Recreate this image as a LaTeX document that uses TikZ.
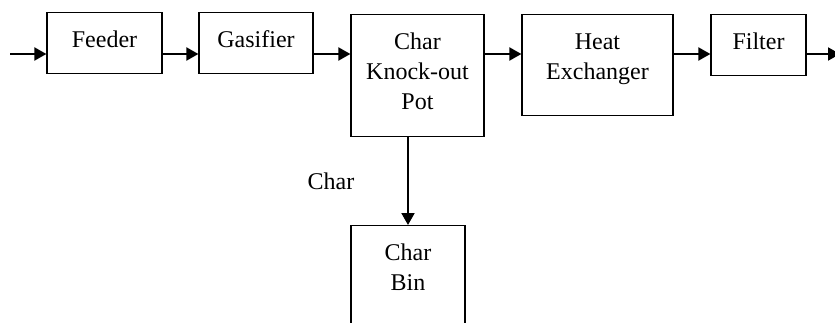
\documentclass[tikz,border=0pt]{standalone}
\usepackage{fontspec}
\setmainfont{Liberation Serif}
\usetikzlibrary{arrows.meta}

\tikzset{
	blk/.style={draw, line width=0.6pt, align=center, inner sep=0pt,
		font=\fontsize{12}{15}\selectfont, anchor=north},
	flow/.style={line width=1pt, -{Triangle[length=6pt,width=6.5pt]}}
}

\begin{document}
\begin{tikzpicture}[x=0.5pt, y=0.5pt]
	\clip (0, 0) rectangle (835, 322);
	\coordinate (line) at (0, 268);
	\coordinate (In) at (10, 268);
	\coordinate (Out) at (840, 268);
	% one line of text: height 17.3pt, each further line adds 15pt
	\node [blk, minimum width=57.5pt, text height=17.3pt, text depth=13.2pt] (feeder) at (104.5, 310) {Feeder};
	\node [blk, minimum width=57pt, text height=17.3pt, text depth=13.2pt] (gasifier) at (256, 310) {Gasifier};
	\node [blk, minimum width=66.5pt, text height=47.3pt, text depth=13.7pt] (kopot) at (417.5, 308) {Char\\Knock-out\\Pot};
	\node [blk, minimum width=75.5pt, text height=32.3pt, text depth=18.2pt] (hx) at (597.5, 308) {Heat\\Exchanger};
	\node [blk, minimum width=47.5pt, text height=17.3pt, text depth=13.2pt] (filter) at (758.5, 308) {Filter};
	\node [blk, minimum width=57pt, text height=32.3pt, text depth=33pt] (bin) at (408, 97) {Char\\Bin};
	\draw [flow] (In) -- (feeder.west |- line);
	\draw [flow] (feeder.east |- line) -- (gasifier.west |- line);
	\draw [flow] (gasifier.east |- line) -- (kopot.west |- line);
	\draw [flow] (kopot.east |- line) -- (hx.west |- line);
	\draw [flow] (hx.east |- line) -- (filter.west |- line);
	\draw [flow] (filter.east |- line) -- (Out);
	\draw [flow] (kopot.south -| bin.north) -- (bin.north)
		node [midway, left=23pt, font=\fontsize{12}{15}\selectfont] (charlbl) {Char};
\end{tikzpicture}
\end{document}
